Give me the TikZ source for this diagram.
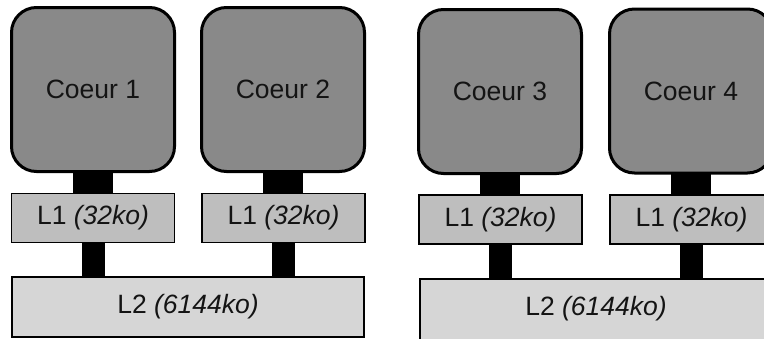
\documentclass[tikz,border=0pt]{standalone}
\usepackage{fontspec}
\setmainfont{Liberation Sans}
\usetikzlibrary{backgrounds}
\definecolor{corefill}{RGB}{137,137,137}
\definecolor{lonefill}{RGB}{190,190,190}
\definecolor{ltwofill}{RGB}{214,214,214}
\definecolor{txt}{RGB}{20,20,20}
\tikzset{
  labelfont/.style={text=txt, font=\fontsize{26.5}{31}\selectfont},
  core/.style={draw=black, line width=3pt, fill=corefill, rounded corners=25pt,
    inner sep=0pt, outer sep=0pt, minimum width=163pt, minimum height=164pt, labelfont},
  lone/.style={draw=black, line width=1.5pt, fill=lonefill, inner sep=0pt, outer sep=0pt,
    minimum width=163pt, minimum height=49pt, labelfont},
  ltwo/.style={draw=black, line width=1.5pt, fill=ltwofill, inner sep=0pt, outer sep=0pt,
    minimum width=352pt, minimum height=60pt, labelfont},
  bus/.style={draw=black, line width=40pt},
  busthin/.style={draw=black, line width=23pt}
}
\begin{document}
\begin{tikzpicture}[x=1pt,y=-1pt]
\useasboundingbox (0,0) rectangle (764,338);
\clip (0,0) rectangle (764,338);
% cores
\node[core] (c1) at (93,89.5) {Coeur 1};
\node[core] (c2) at (283,89.5) {Coeur 2};
\node[core] (c3) at (500,91.5) {Coeur 3};
\node[core] (c4) at (691,91) {Coeur 4};
% L1 caches
\node[lone] (a1) at (93,218) {L1 \textit{(32ko)}};
\node[lone] (a2) at (283.5,218) {L1 \textit{(32ko)}};
\node[lone] (a3) at (500.5,219.5) {L1 \textit{(32ko)}};
\node[lone] (a4) at (691.5,219.5) {L1 \textit{(32ko)}};
% L2 caches
\node[ltwo] (b1) at (188,307) {L2 \textit{(6144ko)}};
\node[ltwo, minimum height=64pt] (b2) at (596,311) {};
\node[labelfont] (b2t) at (596,309) {L2 \textit{(6144ko)}};
% connectors
\begin{scope}[on background layer]
\draw[bus] (c1.south) -- (c1.south |- a1.north);
\draw[bus] (c2.south) -- (c2.south |- a2.north);
\draw[bus] (c3.south) -- (c3.south |- a3.north);
\draw[bus] (c4.south) -- (c4.south |- a4.north);
\draw[busthin] (a1.south) -- (a1.south |- b1.north);
\draw[busthin] (a2.south) -- (a2.south |- b1.north);
\draw[busthin] (a3.south) -- (a3.south |- b2.north);
\draw[busthin] (a4.south) -- (a4.south |- b2.north);
\end{scope}
\end{tikzpicture}
\end{document}
